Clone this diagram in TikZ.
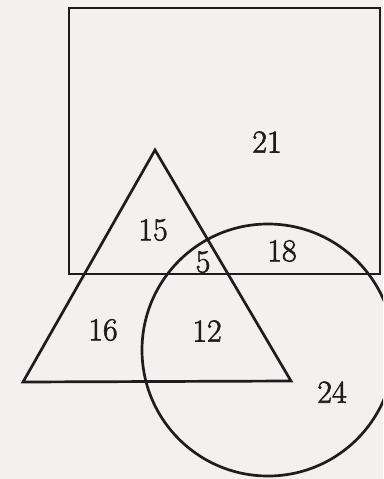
\documentclass[tikz,border=0pt]{standalone}
\definecolor{paper}{RGB}{243,240,240}
\definecolor{ink}{RGB}{30,28,28}
\newcommand{\heavytext}[1]{\special{pdf:literal direct 2 Tr 0.6 w}#1\special{pdf:literal direct 0 Tr}}
\begin{document}
\begin{tikzpicture}[x=1pt,y=-1pt,
  shape line/.style={draw=ink,line width=2.7pt,line join=miter},
  num/.style={text=ink,font=\fontsize{32}{32}\selectfont,inner sep=0pt}]
\useasboundingbox (0,0) rectangle (383,479);
\fill[paper] (0,0) rectangle (383,479);
\clip (0,0) rectangle (383,479);
% rectangle
\draw[shape line] (69,8) rectangle (380,274);
% triangle
\coordinate (apex) at (155,150);
\coordinate (bl) at (23,382);
\coordinate (br) at (291,381);
\draw[shape line] (apex) -- (bl) -- (br) -- cycle;
% circle
\draw[shape line] (268,350) circle[radius=126];
% numbers
\node[num] (n21) at (267,142) {\heavytext{21}};
\node[num] (n15) at (153,230) {\heavytext{15}};
\node[num] (n5) at (203,262) {\heavytext{5}};
\node[num] (n18) at (282,251) {\heavytext{18}};
\node[num] (n16) at (103,330) {\heavytext{16}};
\node[num] (n12) at (207,331) {\heavytext{12}};
\node[num] (n24) at (332,392) {\heavytext{24}};
\end{tikzpicture}
\end{document}
